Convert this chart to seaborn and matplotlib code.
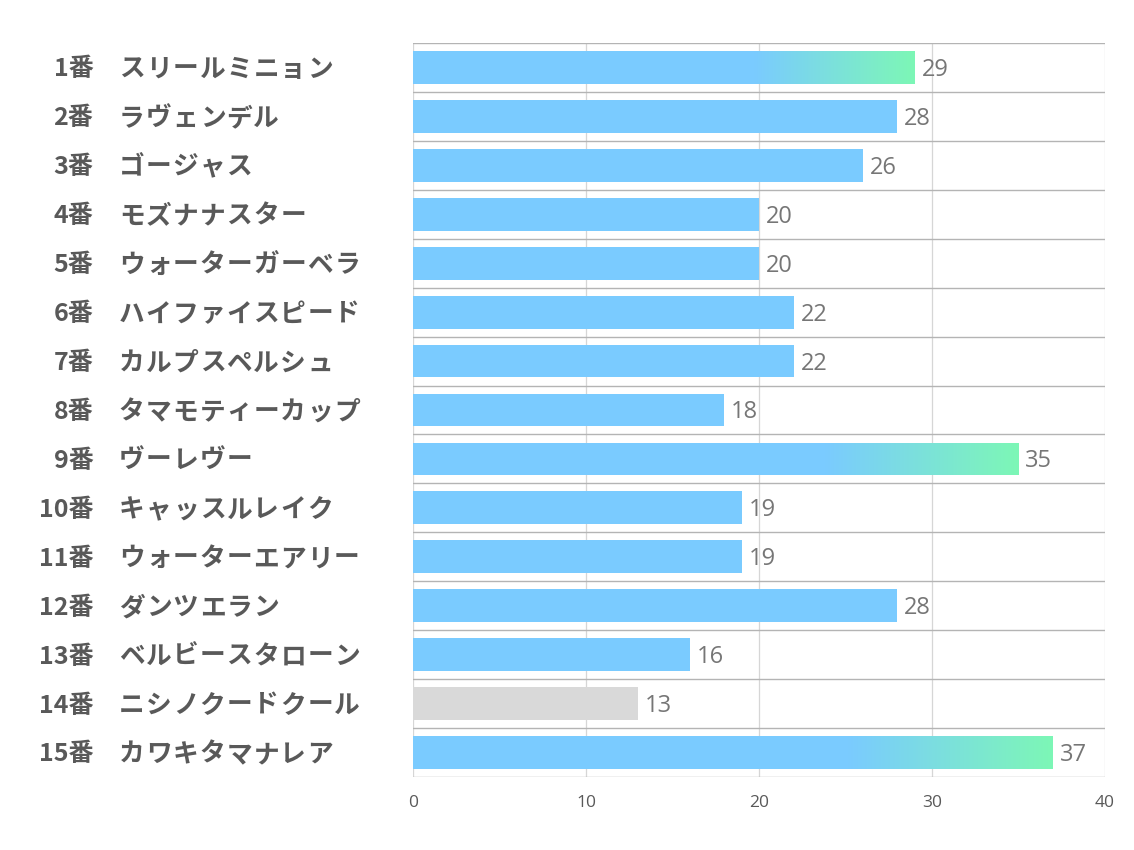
import numpy as np
import pandas as pd
import seaborn as sns
import matplotlib.pyplot as plt
from matplotlib.colors import LinearSegmentedColormap
from matplotlib.transforms import offset_copy

# data
nums = ["1番", "2番", "3番", "4番", "5番", "6番", "7番", "8番", "9番", "10番",
        "11番", "12番", "13番", "14番", "15番"]
names = ["スリールミニョン", "ラヴェンデル", "ゴージャス", "モズナナスター", "ウォーターガーベラ",
         "ハイファイスピード", "カルプスペルシュ", "タマモティーカップ", "ヴーレヴー", "キャッスルレイク",
         "ウォーターエアリー", "ダンツエラン", "ベルビースタローン", "ニシノクードクール", "カワキタマナレア"]
values = [29, 28, 26, 20, 20, 22, 22, 18, 35, 19, 19, 28, 16, 13, 37]
highlight = [1, 9, 15]   # bars with the green gradient tip
grayed = [14]            # faded bar

sns.set_theme(style="white")
plt.rcParams['font.family'] = ['Noto Sans CJK JP', 'DejaVu Sans']

BLUE = "#7acbff"
GREEN = "#7df7b6"
GRAY = "#d9d9d9"
TXT = "#595959"

df = pd.DataFrame({"label": [f"{n} {m}" for n, m in zip(nums, names)], "value": values})
colors = [GRAY if i + 1 in grayed else BLUE for i in range(len(values))]

fig = plt.figure(figsize=(11.34, 8.5), dpi=100)
ax = fig.add_axes([0.3642, 0.0859, 0.6102, 0.8635])

sns.barplot(data=df, x="value", y="label", hue="label", palette=colors, legend=False,
            width=0.67, saturation=1, linewidth=0, ax=ax, zorder=2)

ax.set_xlim(0, 40)
ax.set_ylim(len(values) - 0.5, -0.5)
ax.set_xticks([0, 10, 20, 30, 40])
ax.set_xlabel("")
ax.set_ylabel("")
ax.set_yticks([])
for s in ax.spines.values():
    s.set_visible(False)

# grid: vertical at ticks, horizontal between rows
for xv in [0, 10, 20, 30, 40]:
    ax.axvline(xv, color="#d6d6d6", lw=0.9, zorder=1)
for k in range(len(values) + 1):
    ax.axhline(k - 0.5, color="#b4b4b4", lw=1.0, zorder=1)

ax.tick_params(axis="x", length=0, pad=13, labelsize=12.5, labelcolor=TXT)
for t in ax.get_xticklabels():
    t.set_family("Open Sans")

# gradient tips, clipped to their bar
cmap = LinearSegmentedColormap.from_list("tip", [BLUE, GREEN])
grad = np.linspace(0, 1, 256).reshape(1, -1)
for i, p in enumerate(list(ax.patches)):
    if i + 1 in highlight:
        x0 = p.get_x()
        w = p.get_width()
        y0 = p.get_y()
        h = p.get_height()
        gs = x0 + w * 0.68
        im = ax.imshow(grad, cmap=cmap, aspect="auto", extent=[gs, x0 + w, y0 + h, y0],
                       zorder=3, interpolation="bilinear")
        im.set_clip_path(p)
ax.set_xlim(0, 40)
ax.set_ylim(len(values) - 0.5, -0.5)

# value labels
for i, v in enumerate(values):
    ax.text(v + 0.4, i + 0.05, str(v), va="center", ha="left", fontsize=17,
            family="Open Sans", color="#767676", zorder=4)

# left labels: number right-aligned, name with a fixed advance per character
tr = ax.get_yaxis_transform()
for i, (n, m) in enumerate(zip(nums, names)):
    ax.text(-0.462, i + 0.04, n, transform=tr, ha="right", va="center", fontsize=18,
            fontweight="bold", color=TXT)
    for k, ch in enumerate(m):
        t = offset_copy(tr, fig=fig, x=k * 26.9 * 72 / 100, y=0, units="points")
        ax.text(-0.425, i + 0.04, ch, transform=t, ha="left", va="center", fontsize=18.5,
                fontweight="bold", color=TXT)

fig.savefig("out.png", dpi=100)
